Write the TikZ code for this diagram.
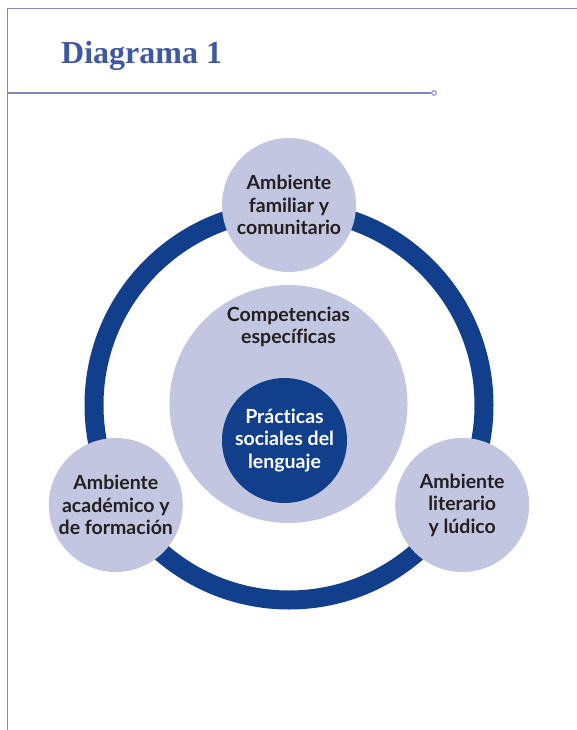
\documentclass[tikz,border=0pt]{standalone}
\usepackage{fontspec}
\setmainfont{Lato}[Ligatures=NoCommon]
\newfontfamily\titlefont{Liberation Serif}
\usetikzlibrary{positioning}
\definecolor{ringblue}{HTML}{123F8C}
\definecolor{lilac}{HTML}{C3C6E1}
\definecolor{framecol}{HTML}{8088C4}
\definecolor{titleblue}{HTML}{3F58A3}
\definecolor{ink}{HTML}{231F20}

\begin{document}
\begin{tikzpicture}[x=1pt,y=-1pt,
   frame/.style={framecol,line width=1.4pt},
   amb/.style={circle,fill=lilac,minimum size=134pt,inner sep=0pt,align=center,text=ink,font=\bfseries\fontsize{19.5}{22.5}\selectfont},
   comp/.style={circle,fill=lilac,minimum size=238pt,inner sep=0pt},
   core/.style={circle,fill=ringblue,minimum size=125pt,inner sep=0pt,align=center,text=white,font=\bfseries\fontsize{19.5}{22.5}\selectfont}]
\useasboundingbox (0,0) rectangle (577,730);
% frame and title
\coordinate (corner) at (7.5,8.3);
\coordinate (topend) at (577,8.3);
\coordinate (leftend) at (7.5,730);
\draw[frame] (topend) -- (corner) -- (leftend);
\node[anchor=base west,inner sep=0pt,text=titleblue,font=\titlefont\bfseries\fontsize{32}{36}\selectfont] (title) at (61,63.3) {Diagrama 1};
\coordinate (rulestart) at (7.5,93);
\node[circle,draw=framecol,line width=1pt,fill=white,inner sep=0pt,minimum size=4.6pt] (ruledot) at (434,93) {};
\draw[framecol,line width=1.2pt] (rulestart) -- (ruledot.west);
% ring
\coordinate (hub) at (289,405);
\draw[ringblue,line width=19pt] (hub) circle (195pt);
\foreach \ang/\nm/\txt in %
{90/fam/{Ambiente\\familiar y\\comunitario},210/aca/{Ambiente\\académico y\\de formación},-30/lit/{Ambiente\\literario\\y lúdico}} {
   \node[amb] (\nm) at ([shift={(\ang:200pt)}]hub) {\txt};
}
% centre
\node[comp] (compet) at (288.5,404) {};
\node[below=19pt of compet.north,align=center,text=ink,font=\bfseries\fontsize{19.5}{22}\selectfont] (compettxt) {Competencias\\específicas};
\node[core] (practicas) at (284.5,440.5) {Prácticas\\sociales del\\lenguaje};
\end{tikzpicture}
\end{document}
